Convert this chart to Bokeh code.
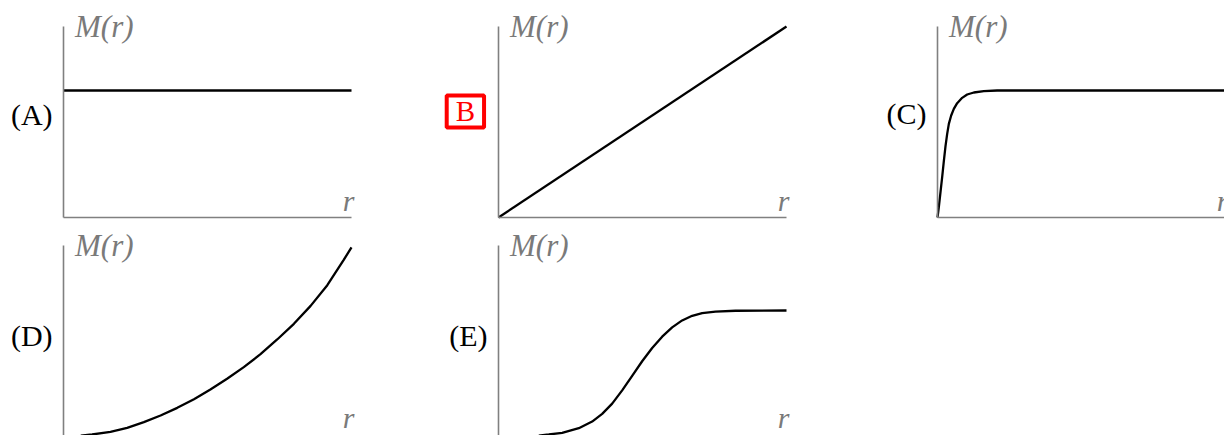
from bokeh.plotting import figure
from bokeh.layouts import row, column
from bokeh.models import Range1d, Label, FixedTicker
from bokeh.embed import file_html
from bokeh.resources import INLINE

# ---- curve samples: radius r (0..1) and M(r) (0..1) ----
# (A) constant
a_r = [0.0, 1.0]
a_m = [0.665, 0.665]

# (B) linear
b_r = [0.0, 1.0]
b_m = [0.0, 1.0]

# (C) fast rise, then flat
c_r = [0.0, 0.0046, 0.0104, 0.0162, 0.0220, 0.0278, 0.0336, 0.0394, 0.0475,
       0.0567, 0.0683, 0.0856, 0.1030, 0.1262, 0.1609, 0.2072, 1.0]
c_m = [0.0, 0.0541, 0.1326, 0.2111, 0.2950, 0.3740, 0.4381, 0.4904, 0.5340,
       0.5689, 0.5986, 0.6265, 0.6440, 0.6545, 0.6614, 0.6649, 0.6649]

# (D) growing faster than linear
d_r = [0.060, 0.0995, 0.163, 0.221, 0.279, 0.337, 0.395, 0.453, 0.510, 0.568,
       0.626, 0.684, 0.742, 0.800, 0.858, 0.916, 0.973, 1.0]
d_m = [0.004, 0.0105, 0.0244, 0.0454, 0.0750, 0.110, 0.150, 0.195, 0.246, 0.302,
       0.363, 0.431, 0.508, 0.590, 0.684, 0.792, 0.925, 0.990]

# (E) sigmoid
e_r = [0.140, 0.1748, 0.2211, 0.2789, 0.3252, 0.3600, 0.3947, 0.4294, 0.4641,
       0.4988, 0.5336, 0.5683, 0.6030, 0.6377, 0.6725, 0.7072, 0.7535, 0.8229, 1.0]
e_m = [0.004, 0.0105, 0.0193, 0.0436, 0.0783, 0.1183, 0.1721, 0.2415, 0.3178,
       0.3941, 0.4637, 0.5227, 0.5713, 0.6077, 0.6321, 0.6460, 0.6543, 0.6585, 0.6597]

panel_names = ["(A)", "B", "(C)", "(D)", "(E)"]
y_label = "M(r)"
x_label = "r"

SERIF = "Liberation Serif"
AXIS_GRAY = "#808080"
TEXT_GRAY = "#7a7a7a"
PX = 288.0   # pixels per unit of r
PY = 191.0   # pixels per unit of M


def make_panel(r, m, width, height, origin_x, origin_y, name, name_y,
               r_label_y=0.09, boxed=False):
    """origin_x / origin_y: pixel position of (r=0, M=0) from the panel's
    left / top edge."""
    top_px = origin_y - PY  # pixel row of M = 1
    p = figure(width=width, height=height,
               min_border_left=0, min_border_right=0,
               min_border_top=0, min_border_bottom=0,
               x_range=Range1d(-origin_x / PX, (width - origin_x) / PX),
               y_range=Range1d(-(height - origin_y) / PY, 1.0 + top_px / PY),
               output_backend="svg", toolbar_location=None)
    p.outline_line_color = None
    p.grid.visible = False
    p.background_fill_color = "white"
    p.border_fill_color = "white"
    for ax in p.axis:
        ax.ticker = FixedTicker(ticks=[])
        ax.major_tick_out = 0
        ax.major_tick_in = 0
        ax.minor_tick_out = 0
        ax.minor_tick_in = 0
        ax.major_label_standoff = 0
        ax.axis_line_color = AXIS_GRAY
        ax.axis_line_width = 1.6
        ax.fixed_location = 0
        ax.bounds = (0, 1)

    p.line(r, m, line_color="black", line_width=2.3)

    p.add_layout(Label(x=0.040, y=1.0, text=y_label, text_font=SERIF,
                       text_font_style="italic", text_font_size="31px",
                       text_color=TEXT_GRAY, text_align="left",
                       text_baseline="middle"))
    p.add_layout(Label(x=0.990, y=r_label_y, text=x_label, text_font=SERIF,
                       text_font_style="italic", text_font_size="30px",
                       text_color=TEXT_GRAY, text_align="center",
                       text_baseline="middle"))
    if boxed:
        p.add_layout(Label(x=-0.115, y=name_y, text=name, text_font=SERIF,
                           text_font_size="29px", text_color="red",
                           text_align="center", text_baseline="middle",
                           border_line_color="red", border_line_width=4,
                           background_fill_color="white", padding=(9, 0)))
    else:
        p.add_layout(Label(x=-0.038, y=name_y, text=name, text_font=SERIF,
                           text_font_size="30px", text_color="black",
                           text_align="right", text_baseline="middle"))
    return p


# top row: panels 228 px tall, M = 0 at 217 px
pa = make_panel(a_r, a_m, 435, 228, 63, 217, panel_names[0], 0.539)
pb = make_panel(b_r, b_m, 439, 228, 63, 217, panel_names[1], 0.555, boxed=True)
pc = make_panel(c_r, c_m, 350, 228, 63, 217, panel_names[2], 0.545)

# bottom row: 207 px tall, M = 0 sits one pixel below the panel
pd = make_panel(d_r, d_m, 435, 207, 63, 208, panel_names[3], 0.53, r_label_y=0.10)
pe = make_panel(e_r, e_m, 439, 207, 63, 208, panel_names[4], 0.53, r_label_y=0.10)

layout = column(row(pa, pb, pc), row(pd, pe))

with open("out.html", "w") as f:
    f.write(file_html(layout, INLINE))
